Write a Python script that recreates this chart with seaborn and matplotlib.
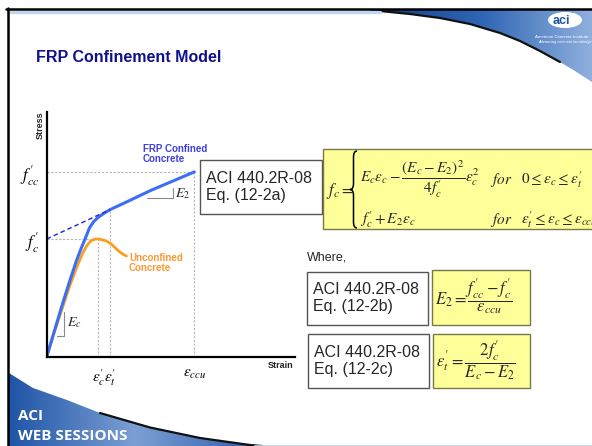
import numpy as np
import matplotlib
matplotlib.use("Agg")
import matplotlib.pyplot as plt
import seaborn as sns
from matplotlib.patches import Rectangle, Polygon, Ellipse, PathPatch
from matplotlib.path import Path

# stress-strain curves, normalised: strain / eps_ccu, stress / f'c
strain_conf = [0, 0.05, 0.10, 0.15, 0.20, 0.23, 0.26, 0.29, 0.32, 0.35, 0.39, 0.43, 0.55, 0.70, 0.85, 1.0]
stress_conf = [0, 0.21, 0.42, 0.62, 0.81, 0.91, 1.00, 1.095, 1.15, 1.185, 1.22, 1.25, 1.32, 1.41, 1.49, 1.57]
strain_unconf = [0, 0.05, 0.10, 0.15, 0.20, 0.24, 0.27, 0.30, 0.33, 0.35, 0.37, 0.40, 0.43, 0.46, 0.49, 0.52, 0.54]
stress_unconf = [0, 0.20, 0.39, 0.58, 0.75, 0.87, 0.94, 0.985, 1.0, 1.0, 0.995, 0.985, 0.965, 0.93, 0.895, 0.868, 0.855]
strain_ticks = [0.35, 0.43, 1.0]
strain_tick_labels = [r"$\varepsilon_c'$", r"$\varepsilon_t'$", r"$\varepsilon_{ccu}$"]
stress_ticks = [1.0, 1.57]
stress_tick_labels = [r"$f_c'$", r"$f_{cc}'$"]
eps_t_stress = 1.25

sns.set_style("white")
plt.rcParams["font.family"] = ["Liberation Sans", "DejaVu Sans"]
plt.rcParams["mathtext.fontset"] = "stix"

W, H = 592, 446
fig = plt.figure(figsize=(W / 100, H / 100), dpi=100)

# slide background / decorations in pixel coords
bg = fig.add_axes([0, 0, 1, 1])
bg.set_xlim(0, W)
bg.set_ylim(H, 0)
bg.axis("off")


def gradient_fill(ax, pts, colors, x0, x1):
    poly = Polygon(pts, closed=True, facecolor="none", edgecolor="none")
    ax.add_patch(poly)
    cmap = matplotlib.colors.LinearSegmentedColormap.from_list("g", colors)
    grad = np.linspace(0, 1, 256).reshape(1, -1)
    ys = [p[1] for p in pts]
    im = ax.imshow(grad, cmap=cmap, aspect="auto",
                   extent=[x0, x1, max(ys), min(ys)], zorder=1)
    im.set_clip_path(poly)


# top swoosh
top_low = [(350, 10), (380, 11), (410, 14), (440, 18), (470, 24), (500, 33),
           (520, 41), (540, 51), (560, 62), (575, 71), (592, 82)]
gradient_fill(bg, [(350, 9), (592, 9)] + top_low[::-1],
              ["#123f8a", "#2f65b3", "#8fb0dd"], 370, 592)
bg.plot([p[0] for p in top_low[1:9]], [p[1] for p in top_low[1:9]], color="#111", lw=1.6, zorder=2)
bg.plot([6, 592], [8.5, 8.5], color="black", lw=1.8, zorder=3)
bg.plot([9, 380], [12, 12], color="#c0d6ee", lw=2.4, zorder=2)
bg.plot([7.5, 7.5], [8, H], color="black", lw=1.8, zorder=3)

# bottom swoosh
bot_up = [(9, 373), (33, 388), (67, 400), (100, 413), (150, 427.5), (200, 438), (250, 445), (262, 446)]
gradient_fill(bg, bot_up + [(9, 446)], ["#1f55a6", "#7c9fd5", "#2a5ca8"], 9, 262)
bg.plot([p[0] for p in bot_up[3:]], [p[1] for p in bot_up[3:]], color="#111", lw=1.6, zorder=2)
bg.plot([255, 592], [445.5, 445.5], color="#c0d6ee", lw=1.2, zorder=2)
bg.text(18, 416, "ACI", color="white", fontsize=11, fontweight="bold", family="Open Sans", va="center", zorder=4)
bg.text(18, 436, "WEB SESSIONS", color="white", fontsize=11, fontweight="bold", family="Open Sans", va="center", zorder=4)

# logo
bg.add_patch(Ellipse((565, 20), 34, 16, facecolor="white", edgecolor="none", zorder=4))
bg.text(561, 20.5, "aci", color="#1f55a6", fontsize=9, fontweight="bold", ha="center", va="center", zorder=5)
bg.text(562, 36.5, "American Concrete Institute", color="white", fontsize=3.2, ha="center", va="center", zorder=5)
bg.text(565, 42.5, "Advancing concrete knowledge", color="white", fontsize=2.8, style="italic", ha="center", va="center", zorder=5)

bg.text(36, 58, "FRP Confinement Model", color="#10108c", fontsize=11.5, fontweight="bold", va="center")

# chart
ax = fig.add_axes([46.7 / W, 1 - 356.7 / H, 248.3 / W, 245 / H])
ax.patch.set_alpha(0)
sns.lineplot(x=strain_unconf, y=stress_unconf, color="#fb9d1f", lw=2.0, ax=ax, sort=False, estimator=None)
sns.lineplot(x=strain_conf, y=stress_conf, color="#3a6ef5", lw=2.2, ax=ax, sort=False, estimator=None)
ax.plot([0, strain_ticks[1]], [stress_ticks[0], eps_t_stress], color="#3030e0", lw=1.1, ls=(0, (3, 2)))

guide = dict(color="#b5b5b5", lw=0.8, ls=(0, (2, 1.5)), zorder=0)
ax.plot([0, strain_ticks[2]], [stress_ticks[1]] * 2, **guide)
ax.plot([strain_ticks[2]] * 2, [0, stress_ticks[1]], **guide)
ax.plot([0, strain_ticks[0]], [stress_ticks[0]] * 2, **guide)
ax.plot([strain_ticks[0]] * 2, [0, stress_ticks[0]], **guide)
ax.plot([strain_ticks[1]] * 2, [0, eps_t_stress], **guide)

ax.set_xlim(0, 248.3 / 147.6)
ax.set_ylim(0, 245 / 117.7)
sns.despine(ax=ax)
for s in ["left", "bottom"]:
    ax.spines[s].set_linewidth(1.6)
    ax.spines[s].set_color("black")
ax.set_xticks(strain_ticks, strain_tick_labels)
ax.set_yticks(stress_ticks, stress_tick_labels)
ax.tick_params(direction="inout", length=7, width=1.5, labelsize=12, colors="black")
ax.tick_params(axis="x", pad=4, labelsize=11)
ax.tick_params(axis="y", pad=2)

# slope markers
bg.plot([146.7, 172.7, 172.7], [198.3, 198.3, 188.3], color="#8a8a8a", lw=0.8)
bg.text(175, 194, r"$E_2$", fontsize=10, va="center")
bg.plot([57.3, 64.3, 64.3], [335.7, 335.7, 311.7], color="#8a8a8a", lw=0.8)
bg.text(67, 323, r"$E_c$", fontsize=10, va="center")

bg.text(143, 154, "FRP Confined\nConcrete", color="#3f3fe0", fontsize=7, fontweight="bold", va="center", linespacing=1.05)
bg.text(129, 263, "Unconfined\nConcrete", color="#fb9933", fontsize=7, fontweight="bold", va="center", linespacing=1.05)
bg.text(40, 125, "Stress", fontsize=6.5, fontweight="bold", rotation=90, ha="center", va="center")
bg.text(281, 366, "Strain", fontsize=6.5, fontweight="bold", ha="center", va="center")


# equation boxes
def ref_box(x0, y0, x1, y1, eq):
    bg.add_patch(Rectangle((x0, y0), x1 - x0, y1 - y0, facecolor="white", edgecolor="#555555", lw=1))
    bg.text(x0 + 6, (y0 + y1) / 2, "ACI 440.2R-08\nEq. (%s)" % eq, fontsize=11.5, va="center", linespacing=1.15)


def yellow_box(x0, y0, x1, y1):
    bg.add_patch(Rectangle((x0, y0), x1 - x0, y1 - y0, facecolor="#ffff99", edgecolor="#77774a", lw=1))


def brace(x, y0, y1):
    m = (y0 + y1) / 2
    verts = [(x + 7, y0), (x + 3.5, y0), (x + 3.5, y0 + 6), (x + 3.5, m - 6),
             (x + 3.5, m), (x, m), (x + 3.5, m), (x + 3.5, m + 6),
             (x + 3.5, y1 - 6), (x + 3.5, y1), (x + 7, y1)]
    codes = [Path.MOVETO, Path.CURVE3, Path.CURVE3, Path.LINETO,
             Path.CURVE3, Path.CURVE3, Path.CURVE3, Path.CURVE3,
             Path.LINETO, Path.CURVE3, Path.CURVE3]
    bg.add_patch(PathPatch(Path(verts, codes), facecolor="none", edgecolor="black", lw=1.1, zorder=3))


ref_box(200, 160, 321.7, 214, "12-2a")
yellow_box(323.3, 149, 600, 229.3)
bg.text(326, 191, r"$f_c=$", fontsize=12, va="center")
brace(350, 151, 228)
bg.text(360, 179, r"$E_c\varepsilon_c-\dfrac{\left(E_c-E_2\right)^2}{4f_c'}\varepsilon_c^2$", fontsize=11, va="center")
bg.text(490, 180, r"$for$", fontsize=11, va="center")
bg.text(521, 180, r"$0\leq\varepsilon_c\leq\varepsilon_t'$", fontsize=11, va="center")
bg.text(360, 220, r"$f_c'+E_2\varepsilon_c$", fontsize=11, va="center")
bg.text(490, 220, r"$for$", fontsize=11, va="center")
bg.text(521, 220, r"$\varepsilon_t'\leq\varepsilon_c\leq\varepsilon_{ccu}$", fontsize=11, va="center")

bg.text(307, 258, "Where,", fontsize=9, va="center")
ref_box(306.7, 271.7, 427.7, 325, "12-2b")
yellow_box(431.7, 270, 530, 325)
bg.text(435, 297, r"$E_2=\dfrac{f_{cc}'-f_c'}{\varepsilon_{ccu}}$", fontsize=12, va="center")
ref_box(308.3, 334.3, 429.3, 388.3, "12-2c")
yellow_box(433.3, 334.3, 530, 388.3)
bg.text(436, 361, r"$\varepsilon_t'=\dfrac{2f_c'}{E_c-E_2}$", fontsize=12, va="center")

fig.savefig("out.png", dpi=100)
